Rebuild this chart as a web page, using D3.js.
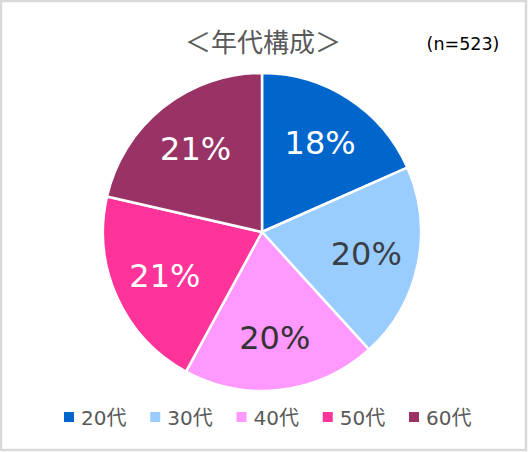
<!DOCTYPE html>
<html>
<head>
<meta charset="utf-8">
<script src="https://cdn.jsdelivr.net/npm/d3@7"></script>
<style>
	body { margin: 0; background: #fff; }
	svg { display: block; }
</style>
</head>
<body>
<svg width="528" height="452"></svg>
<script>
// counts by age group (n=523)
var categories = ["20代", "30代", "40代", "50代", "60代"];
var counts = [96, 104, 103, 108, 112];
var colors = ["#0066CC", "#99CCFF", "#FF99FF", "#FF3399", "#993366"];
var labelColors = ["#ffffff", "#3a3f46", "#333333", "#ffffff", "#ffffff"];

var W = 528, H = 452;
var cx = 262, cy = 232, R = 159;
var total = d3.sum(counts);

var svg = d3.select("svg");

// outer frame
svg.append("rect")
	.attr("x", 1).attr("y", 1)
	.attr("width", W - 3).attr("height", H - 3)
	.attr("fill", "#fff")
	.attr("stroke", "#d9d9d9")
	.attr("stroke-width", 2.5);

svg.append("text")
	.attr("x", 263).attr("y", 52)
	.attr("text-anchor", "middle")
	.attr("font-family", "'Noto Sans CJK JP', sans-serif")
	.attr("font-size", 26)
	.attr("fill", "#595959")
	.text("＜年代構成＞");

svg.append("text")
	.attr("x", 463).attr("y", 50)
	.attr("text-anchor", "middle")
	.attr("font-family", "'DejaVu Sans', sans-serif")
	.attr("font-size", 17.5)
	.attr("fill", "#000")
	.text("(n=" + total + ")");

var pie = d3.pie().sort(null).value(function(d){ return d; });
var arcs = pie(counts);
var arc = d3.arc().innerRadius(0).outerRadius(R);
var labelArc = d3.arc().innerRadius(R * 0.67).outerRadius(R * 0.67);

var g = svg.append("g").attr("transform", "translate(" + cx + "," + cy + ")");

g.selectAll("path.slice")
	.data(arcs)
	.enter().append("path")
	.attr("class", "slice")
	.attr("d", arc)
	.attr("fill", function(d, i){ return colors[i]; })
	.attr("stroke", "#fff")
	.attr("stroke-width", 2.5)
	.attr("stroke-linejoin", "round");

g.selectAll("text.pct")
	.data(arcs)
	.enter().append("text")
	.attr("class", "pct")
	.attr("transform", function(d){ return "translate(" + labelArc.centroid(d) + ")"; })
	.attr("text-anchor", "middle")
	.attr("dy", "0.36em")
	.attr("font-family", "'DejaVu Sans', sans-serif")
	.attr("font-size", 32)
	.attr("fill", function(d, i){ return labelColors[i]; })
	.text(function(d){ return Math.round(d.data / total * 100) + "%"; });

// legend
var lx = d3.scalePoint().domain(categories).range([64, 409]);
var legend = svg.selectAll("g.leg")
	.data(categories)
	.enter().append("g")
	.attr("class", "leg")
	.attr("transform", function(d){ return "translate(" + lx(d) + ",412)"; });

legend.append("rect")
	.attr("width", 10).attr("height", 10)
	.attr("fill", function(d, i){ return colors[i]; });

legend.append("text")
	.attr("x", 17).attr("y", 13)
	.attr("font-family", "'DejaVu Sans', 'Noto Sans CJK JP', sans-serif")
	.attr("font-size", 20)
	.attr("fill", "#595959")
	.text(function(d){ return d; });
</script>
</body>
</html>
